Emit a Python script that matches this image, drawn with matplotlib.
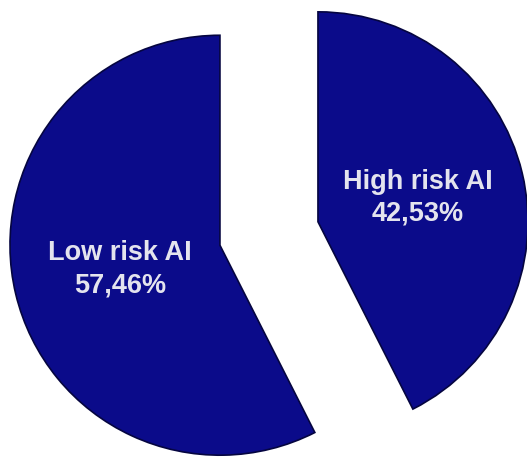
import matplotlib
matplotlib.use("Agg")
import matplotlib.pyplot as plt

# Share of AI systems by risk class
categories = ["High risk AI", "Low risk AI"]
shares = [42.53, 57.46]
explode = [0.24, 0.24]

fill_color = "#0b0b8a"
edge_color = "#050540"
text_color = "#e4e4ee"

fig = plt.figure(figsize=(5.27, 4.58), dpi=100)
ax = fig.add_axes([0, 0, 1, 1])

labels = [f"{name}\n{value:.2f}%".replace(".", ",") for name, value in zip(categories, shares)]

wedges, texts = ax.pie(
    shares,
    labels=labels,
    explode=explode,
    startangle=90,
    counterclock=False,
    colors=[fill_color] * len(shares),
    labeldistance=0.49,
    wedgeprops=dict(edgecolor=edge_color, linewidth=1.2),
    textprops=dict(color=text_color, fontsize=19.5, fontweight="bold",
                   family=["Liberation Sans", "DejaVu Sans"], linespacing=1.3),
)
for t in texts:
    t.set_horizontalalignment("center")
    t.set_verticalalignment("center")

ax.set_aspect("equal")
ax.set_xlim(-1.281, 1.229)
ax.set_ylim(-1.069, 1.112)
ax.axis("off")

fig.savefig("out.png", dpi=100, facecolor="white")
